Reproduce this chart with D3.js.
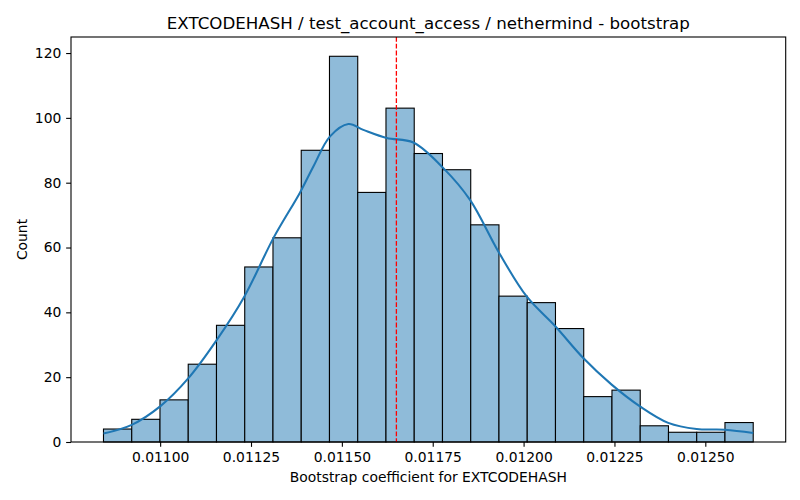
<!DOCTYPE html>
<html>
<head>
<meta charset="utf-8">
<script src="https://cdn.jsdelivr.net/npm/d3@7"></script>
<style>
  body { margin: 0; background: #fff; }
  svg text { font-family: "DejaVu Sans", sans-serif; fill: #000; }
</style>
</head>
<body>
<div id="chart"></div>
<script>
// histogram bins (23 equal-width bins between these edges)
var binLow = 0.0108441;
var binHigh = 0.0126318;
var counts = [4, 7, 13, 24, 36, 54, 63, 90, 119, 77, 103, 89, 84, 67, 45, 43, 35, 14, 16, 5, 3, 3, 6];

// kde curve
var kdeX = [0.0108441, 0.0109202, 0.0110000, 0.0110778, 0.0111559, 0.0112318, 0.0113116, 0.0113850,
            0.0114216, 0.0114675, 0.0115179, 0.0115591, 0.0116235, 0.0116966, 0.0117792, 0.0118526,
            0.0119304, 0.0120085, 0.0120872, 0.0121642, 0.0122423, 0.0123201, 0.0123980, 0.0124761,
            0.0125539, 0.0126318];
var kdeY = [2.6, 5.2, 11.0, 19.7, 31.5, 44.9, 62.9, 77.0,
            85.0, 94.3, 98.1, 96.3, 93.8, 92.4, 84.5, 74.7,
            58.8, 44.9, 35.7, 25.9, 17.7, 11.0, 5.9, 4.0,
            3.8, 2.8];

var meanValue = 0.01165;

var xTicks = [0.011, 0.01125, 0.0115, 0.01175, 0.012, 0.01225, 0.0125];
var yTicks = [0, 20, 40, 60, 80, 100, 120];

var titleText = "EXTCODEHASH / test_account_access / nethermind - bootstrap";
var xLabel = "Bootstrap coefficient for EXTCODEHASH";
var yLabel = "Count";

var svgWidth = 800, svgHeight = 500;
var margin = {left: 71, right: 14.3, top: 37, bottom: 58};
var w = svgWidth - margin.left - margin.right;
var h = svgHeight - margin.top - margin.bottom;

var svg = d3.select("#chart")
  .append("svg")
    .attr("width", svgWidth)
    .attr("height", svgHeight);

var g = svg.append("g").attr("transform", "translate(" + margin.left + "," + margin.top + ")");

var span = binHigh - binLow;
var x = d3.scaleLinear()
  .domain([binLow - span * 0.05, binHigh + span * 0.05])
  .range([0, w]);

var y = d3.scaleLinear()
  .domain([0, d3.max(counts) * 1.05])
  .range([h, 0]);

var binW = span / counts.length;
var bins = counts.map(function(c, i) {
  return {x0: binLow + i * binW, x1: binLow + (i + 1) * binW, n: c};
});

// bars
g.selectAll("rect.bar")
  .data(bins)
  .enter()
  .append("rect")
    .attr("class", "bar")
    .attr("x", function(d) { return x(d.x0); })
    .attr("width", function(d) { return x(d.x1) - x(d.x0); })
    .attr("y", function(d) { return y(d.n); })
    .attr("height", function(d) { return h - y(d.n); })
    .attr("fill", "#8fbbd9")
    .attr("stroke", "#000")
    .attr("stroke-width", 1.1);

// kde
var kde = kdeX.map(function(v, i) { return [v, kdeY[i]]; });
g.append("path")
  .datum(kde)
  .attr("fill", "none")
  .attr("stroke", "#1f77b4")
  .attr("stroke-width", 2.08)
  .attr("d", d3.line()
    .x(function(d) { return x(d[0]); })
    .y(function(d) { return y(d[1]); })
    .curve(d3.curveCatmullRom));

// mean line
g.append("line")
  .attr("x1", x(meanValue)).attr("x2", x(meanValue))
  .attr("y1", 0).attr("y2", h)
  .attr("stroke", "red")
  .attr("stroke-width", 1.3)
  .attr("stroke-dasharray", "4.8,2");

// axes
var xAxis = g.append("g")
  .attr("transform", "translate(0," + h + ")")
  .call(d3.axisBottom(x).tickValues(xTicks).tickFormat(d3.format(".5f")).tickSize(4.86).tickPadding(4.8));
var yAxis = g.append("g")
  .call(d3.axisLeft(y).tickValues(yTicks).tickSize(4.86).tickPadding(4.8));

[xAxis, yAxis].forEach(function(a) {
  a.selectAll("text").style("font-size", "13.89px");
  a.select(".domain").remove();
  a.selectAll("line").attr("stroke-width", 1.1);
});

// frame
g.append("rect")
  .attr("width", w).attr("height", h)
  .attr("fill", "none")
  .attr("stroke", "#000")
  .attr("stroke-width", 1.1);

svg.append("text")
  .attr("x", margin.left + w / 2)
  .attr("y", 29)
  .attr("text-anchor", "middle")
  .style("font-size", "16.67px")
  .text(titleText);

svg.append("text")
  .attr("x", margin.left + w / 2)
  .attr("y", 482)
  .attr("text-anchor", "middle")
  .style("font-size", "13.89px")
  .text(xLabel);

svg.append("text")
  .attr("transform", "translate(27," + (margin.top + h / 2) + ") rotate(-90)")
  .attr("text-anchor", "middle")
  .style("font-size", "13.89px")
  .text(yLabel);
</script>
</body>
</html>
